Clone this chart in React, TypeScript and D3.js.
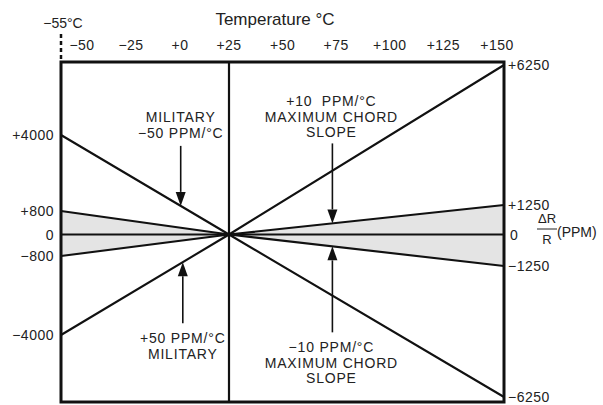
import React, { useRef, useEffect } from 'react';
import * as d3 from 'd3';

// temperature axis, °C
const tempEdges = [-55, 25, 150]; // left edge, reference point, right edge
const tempTicks = [-50, -25, 0, 25, 50, 75, 100, 125, 150];
const tempTickLabels = ['−50', '−25', '+0', '+25', '+50', '+75', '+100', '+125', '+150'];

// ΔR/R in PPM
const leftTicks = [4000, 800, 0, -800, -4000];
const leftTickLabels = ['+4000', '+800', '0', '−800', '−4000'];
const rightTicks = [6250, 1250, 0, -1250, -6250];
const rightTickLabels = ['+6250', '+1250', '0', '−1250', '−6250'];

// PPM at -55, +25 and +150 °C
const militaryNeg = [4000, 0, -6250]; // -50 PPM/°C
const militaryPos = [-4000, 0, 6250]; // +50 PPM/°C
const chordPos = [-800, 0, 1250]; // +10 PPM/°C
const chordNeg = [800, 0, -1250]; // -10 PPM/°C
const bandUpper = [800, 0, 1250];
const bandLower = [-800, 0, -1250];

// callouts
const calloutText = [
  ['MILITARY', '−50 PPM/°C'],
  ['+10  PPM/°C', 'MAXIMUM CHORD', 'SLOPE'],
  ['+50 PPM/°C', 'MILITARY'],
  ['−10 PPM/°C', 'MAXIMUM CHORD', 'SLOPE'],
];
const calloutLine = [militaryNeg, chordPos, militaryPos, chordNeg];
const calloutTemp = [2, 72, 3, 72];

const W = 603;
const H = 405;
const FONT = '"Liberation Sans", Arial, Helvetica, sans-serif';

function ResistanceChart() {
  const svgRef = useRef<SVGSVGElement>(null);

  useEffect(() => {
    if (!svgRef.current) return;
    const svg = d3.select(svgRef.current);
    svg.selectAll('*').remove();

    const left = 61, right = 504, top = 62, bottom = 402;

    const x = d3.scaleLinear().domain(tempEdges).range([left, 229, right]);
    // tick labels sit slightly off the true positions in the original drawing
    const xLabel = d3.scaleLinear().domain([-50, 25, 150]).range([82, 229, 497]);
    // the drawing is schematic, not to scale
    const y = d3.scaleLinear()
      .domain([-6250, -4000, -1250, -800, 0, 800, 1250, 4000, 6250])
      .range([397, 335, 266, 256, 234.5, 211, 205, 135, 65]);

    svg.append('rect').attr('width', W).attr('height', H).attr('fill', '#fff');

    const g = svg.append('g').style('font-family', FONT).attr('fill', '#222');

    // shaded chord band
    const area = d3.area<number>()
      .x((_, i) => x(tempEdges[i]))
      .y0((_, i) => y(bandLower[i]))
      .y1(d => y(d));
    g.append('path').attr('d', area(bandUpper)).attr('fill', '#e4e4e4');

    const line = d3.line<number>().x((_, i) => x(tempEdges[i])).y(d => y(d));

    // zero line and reference temperature line
    g.append('line')
      .attr('x1', left).attr('x2', right).attr('y1', y(0)).attr('y2', y(0))
      .attr('stroke', '#111').attr('stroke-width', 2.2);
    g.append('line')
      .attr('x1', x(25)).attr('x2', x(25)).attr('y1', top).attr('y2', bottom)
      .attr('stroke', '#111').attr('stroke-width', 2.2);

    [militaryNeg, militaryPos, chordPos, chordNeg].forEach(d => {
      g.append('path').attr('d', line(d)).attr('fill', 'none')
        .attr('stroke', '#111').attr('stroke-width', 2.1);
    });

    // frame
    g.append('rect')
      .attr('x', left).attr('y', top).attr('width', right - left).attr('height', bottom - top)
      .attr('fill', 'none').attr('stroke', '#111').attr('stroke-width', 3);

    // -55 °C marker
    g.append('line')
      .attr('x1', x(-55)).attr('x2', x(-55)).attr('y1', 34).attr('y2', top)
      .attr('stroke', '#111').attr('stroke-width', 2.5).attr('stroke-dasharray', '4,3');
    g.append('text').attr('x', x(-55) + 2).attr('y', 28).attr('text-anchor', 'middle')
      .style('font-size', '14px').text('−55°C');

    g.append('text').attr('x', 275).attr('y', 25).attr('text-anchor', 'middle')
      .style('font-size', '17px').text('Temperature °C');

    g.selectAll('.tt').data(tempTicks).enter().append('text')
      .attr('x', d => xLabel(d)).attr('y', 50).attr('text-anchor', 'middle')
      .style('font-size', '14px').style('letter-spacing', '0.5px')
      .text((_, i) => tempTickLabels[i]);

    g.selectAll('.lt').data(leftTicks).enter().append('text')
      .attr('x', 54).attr('y', d => y(d)).attr('dy', '0.36em').attr('text-anchor', 'end')
      .style('font-size', '14px').style('letter-spacing', '0.5px')
      .text((_, i) => leftTickLabels[i]);

    g.selectAll('.rt').data(rightTicks).enter().append('text')
      .attr('x', d => (d === 0 ? 510 : 508)).attr('y', d => y(d)).attr('dy', '0.36em')
      .style('font-size', '14px').style('letter-spacing', '0.5px')
      .text((_, i) => rightTickLabels[i]);

    // ΔR/R (PPM)
    g.append('text').attr('x', 547).attr('y', 223).attr('text-anchor', 'middle')
      .style('font-size', '13px').text('ΔR');
    g.append('line').attr('x1', 537).attr('x2', 557).attr('y1', 229).attr('y2', 229)
      .attr('stroke', '#222').attr('stroke-width', 1);
    g.append('text').attr('x', 547).attr('y', 244).attr('text-anchor', 'middle')
      .style('font-size', '13px').text('R');
    g.append('text').attr('x', 557).attr('y', 237)
      .style('font-size', '14px').text('(PPM)');

    // callouts: arrow length and text offset from the tip, up (-1) or down (+1)
    const layout = [
      { len: 60, dir: -1, gap: 8 },
      { len: 80, dir: -1, gap: 6 },
      { len: 61, dir: 1, gap: 20 },
      { len: 86, dir: 1, gap: 20 },
    ];
    calloutText.forEach((lines, k) => {
      const t = calloutTemp[k];
      const pts = calloutLine[k];
      const cx = x(t);
      const seg = t < 25 ? [0, 1] : [1, 2];
      const frac = (t - tempEdges[seg[0]]) / (tempEdges[seg[1]] - tempEdges[seg[0]]);
      const tipY = d3.interpolateNumber(y(pts[seg[0]]), y(pts[seg[1]]))(frac);
      const { len, dir, gap } = layout[k];
      const endY = tipY + dir * len;
      const head = 14;
      g.append('line')
        .attr('x1', cx).attr('x2', cx).attr('y1', endY).attr('y2', tipY + dir * head)
        .attr('stroke', '#111').attr('stroke-width', 1.6);
      g.append('path')
        .attr('d', `M${cx},${tipY}L${cx - 5},${tipY + dir * head}L${cx + 5},${tipY + dir * head}Z`)
        .attr('fill', '#111');
      const lh = 15.5;
      lines.forEach((s, j) => {
        const yy = dir < 0
          ? endY - gap - (lines.length - 1 - j) * lh
          : endY + gap + j * lh;
        g.append('text').attr('x', cx + (k === 1 || k === 3 ? -1 : 0)).attr('y', yy)
          .attr('text-anchor', 'middle').style('font-size', '14px')
          .style('letter-spacing', '0.8px').style('white-space', 'pre').text(s);
      });
    });
  }, []);

  return <svg ref={svgRef} width={W} height={H} role="img"></svg>;
}

export default function App() {
  return (
    <div style={{ position: 'fixed', left: 0, top: 0 }}>
      <ResistanceChart />
    </div>
  );
}
